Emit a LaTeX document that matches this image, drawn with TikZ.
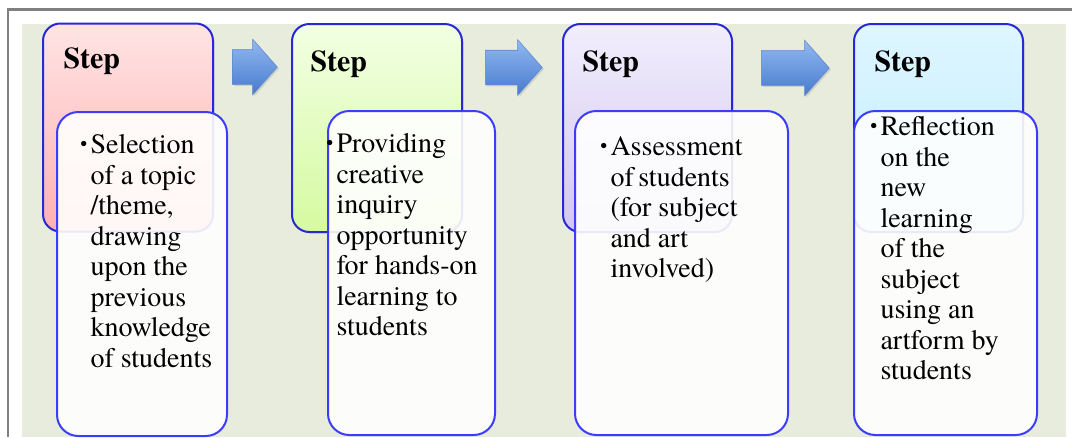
\documentclass[tikz,border=0pt]{standalone}
\usepackage{fontspec}
\setmainfont{texgyretermes}[Extension=.otf, UprightFont=*-regular, BoldFont=*-bold, ItalicFont=*-italic, BoldItalicFont=*-bolditalic]
\usetikzlibrary{shapes.arrows,shadows}

\definecolor{framegray}{RGB}{128,128,128}
\definecolor{panelbg}{RGB}{232,236,220}
\definecolor{boxblue}{RGB}{40,40,215}
\definecolor{noteblue}{RGB}{60,60,255}
\definecolor{notewhite}{RGB}{255,255,254}
\definecolor{arrowtop}{RGB}{145,185,242}
\definecolor{arrowbot}{RGB}{72,122,205}
\definecolor{arrowedge}{RGB}{95,135,205}

\tikzset{every picture/.style={line width=0.75pt},
  stepbox/.style={draw=boxblue, line width=1.5pt, rounded corners=13pt, minimum height=156pt, inner sep=0pt,
    drop shadow={opacity=0.2, shadow xshift=1.2pt, shadow yshift=-1.2pt}},
  notebox/.style={draw=noteblue, line width=1.5pt, rounded corners=16pt, fill=notewhite, fill opacity=0.9, draw opacity=1, minimum height=243pt, inner sep=0pt},
  steplabel/.style={font=\fontsize{22.5}{26}\selectfont\bfseries, anchor=base west, inner sep=0pt},
  notetext/.style={font=\fontsize{21}{22.9}\selectfont, align=left, anchor=north west, inner sep=0pt},
  flowarrow/.style={single arrow, anchor=tail, single arrow head extend=7.9pt, single arrow tip angle=97, inner xsep=0pt, inner ysep=12.75pt,
    top color=arrowtop, bottom color=arrowbot, draw=arrowedge, line width=0.4pt,
    drop shadow={opacity=0.25, shadow xshift=1.2pt, shadow yshift=-1.2pt}}
}

\newcommand{\bul}{\strut\llap{\raisebox{0.1em}{\scalebox{0.7}{\textbullet}}\kern2.5pt}}

\begin{document}
\begin{tikzpicture}[x=0.75pt,y=0.75pt,yscale=-1,xscale=1]
    \useasboundingbox (0,0) rectangle (1072,437);

    % panel and frame
    \fill [panelbg] (22,24) rectangle (1066,437);
    \draw [framegray, line width=2pt] (1072,9.5) -- (8,9.5) -- (8,437);

    % step boxes
    \node [stepbox, minimum width=127.5pt, top color={rgb,255:red,255;green,228;blue,228}, bottom color={rgb,255:red,255;green,176;blue,176}] (s1) at (128,127.5) {};
    \node [stepbox, minimum width=127.5pt, top color={rgb,255:red,242;green,255;blue,228}, bottom color={rgb,255:red,214;green,250;blue,160}] (s2) at (377,128) {};
    \node [stepbox, minimum width=126.75pt, top color={rgb,255:red,242;green,238;blue,252}, bottom color={rgb,255:red,210;green,198;blue,240}] (s3) at (647.5,128) {};
    \node [stepbox, minimum width=126.75pt, top color={rgb,255:red,222;green,246;blue,255}, bottom color={rgb,255:red,194;green,235;blue,255}] (s4) at (938.5,128) {};

    % Text Node
    \node [steplabel] (l1) at (63,68) {Step};
    \node [steplabel] (l2) at (310,71) {Step};
    \node [steplabel] (l3) at (582,71) {Step};
    \node [steplabel] (l4) at (874,71) {Step};

    % arrows between the steps
    \node [flowarrow, minimum height=33.75pt] (a1) at (232,67) {};
    \node [flowarrow, minimum height=42.75pt] (a2) at (485,67.5) {};
    \node [flowarrow, minimum height=51pt] (a3) at (761,68) {};

    % note boxes
    \node [notebox, minimum width=127.5pt] (t1) at (142,274) {};
    \node [notebox, minimum width=125.25pt] (t2) at (411.5,273) {};
    \node [notebox, minimum width=159.75pt] (t3) at (681.5,273) {};
    \node [notebox, minimum width=137.25pt] (t4) at (945.5,273) {};

    % Text Node
    \node [notetext] (b1) at (90,131.6) {\bul Selection\\of a topic\\/theme,\\drawing\\upon the\\previous\\knowledge\\of students};
    \node [notetext] (b2) at (336,130.6) {\bul Providing\\creative\\inquiry\\opportunity\\for hands-on\\learning to\\students};
    \node [notetext] (b3) at (610,133.6) {\bul Assessment\\of\,students\\(for subject\\and art\\involved)};
    \node [notetext] (b4) at (880,113.6) {\bul Reflection\\on the\\new\\learning\\of the\\subject\\using an\\artform by\\students};
\end{tikzpicture}
\end{document}
